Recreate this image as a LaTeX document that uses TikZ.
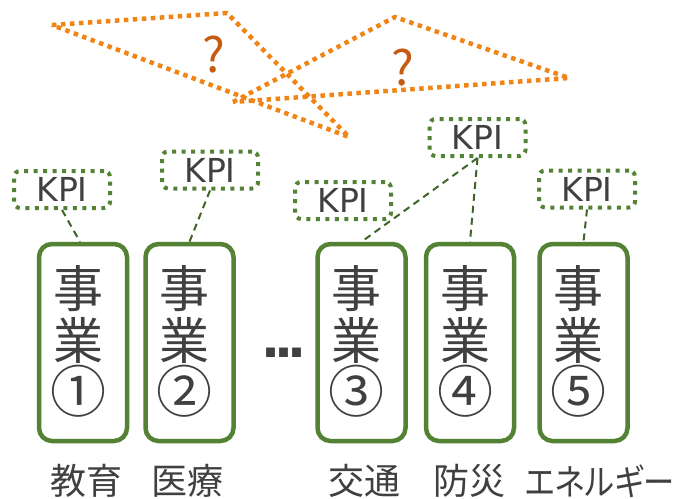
\documentclass[tikz,border=0pt]{standalone}
\usepackage{fontspec}
\newfontfamily\jpfont{Noto Sans CJK JP}
\newfontfamily\katafont[RawFeature=+palt, FakeStretch=0.87]{Noto Sans CJK JP}
\newfontfamily\dvfont{DejaVu Sans}
\newfontfamily\dvbfont{DejaVu Sans Bold}
\definecolor{grn}{RGB}{84,130,53}
\definecolor{dgrn}{RGB}{62,100,40}
\definecolor{org}{RGB}{240,132,20}
\definecolor{qcol}{RGB}{197,90,17}
\definecolor{txt}{RGB}{64,64,64}
\newcommand{\circnum}[1]{\raisebox{-1pt}{\scalebox{1.12}{#1}}}
\tikzset{
  bizbox/.style={draw=grn, line width=4.5pt, rounded corners=13pt, fill=white,
    minimum width=88pt, minimum height=197pt, inner sep=0pt},
  biztext/.style={font=\jpfont\fontsize{50}{52}\selectfont, text=txt, align=center, inner sep=0pt},
  kpibox/.style={draw=grn, line width=4pt, dash pattern=on 4pt off 5.5pt, rounded corners=6pt,
    fill=white, minimum width=96pt, minimum height=37pt, inner sep=0pt,
    font=\dvfont\fontsize{33}{33}\selectfont, text=txt},
  link/.style={draw=dgrn, line width=2pt, dash pattern=on 7pt off 5pt},
  sector/.style={font=\jpfont\fontsize{36}{36}\selectfont, text=txt, inner sep=0pt},
  wedge/.style={draw=org, line width=4.5pt, dash pattern=on 4.5pt off 4.5pt, line join=round},
  qmark/.style={font=\jpfont\fontsize{48}{48}\selectfont, text=qcol, inner sep=0pt}
}
\begin{document}
\begin{tikzpicture}[x=1pt,y=-1pt]
\useasboundingbox (0,0) rectangle (680,498);
% orange wedges
\coordinate (A) at (52,25);
\coordinate (B) at (227,13);
\coordinate (D) at (349,137);
\coordinate (C) at (233,102);
\coordinate (E) at (395,17);
\coordinate (F) at (569,78);
\draw[wedge] (A) -- (B) -- (D) -- cycle;
\draw[wedge] (C) -- (E) -- (F) -- cycle;
\node[qmark] (q1) at (214,55) {?};
\node[qmark] (q2) at (403,68) {?};
% KPI boxes
\node[kpibox] (k1) at (62,189.5) {KPI};
\node[kpibox] (k2) at (210,170) {KPI};
\node[kpibox] (k3) at (343,200.5) {KPI};
\node[kpibox] (k4) at (477.5,137.5) {KPI};
\node[kpibox] (k5) at (587,189) {KPI};
% business boxes
\node[bizbox] (b1) at (83,342.5) {};
\node[bizbox] (b2) at (189.5,342.5) {};
\node[bizbox] (b3) at (361.5,342.5) {};
\node[bizbox] (b4) at (470,342.5) {};
\node[bizbox] (b5) at (583.5,342.5) {};
% connectors
\draw[link] (k1.south) -- ([xshift=-3pt]b1.north);
\draw[link] (k2.south) -- (b2.north);
\draw[link] (k4.south) -- (b3.north);
\draw[link] (k4.south) -- (b4.north);
\draw[link] (k5.south) -- (b5.north);
% texts
\node[biztext] (t1) at ([xshift=-5pt,yshift=1pt]b1.center) {事\\業\\\circnum{①}};
\node[biztext] (t2) at ([xshift=-5pt,yshift=1pt]b2.center) {事\\業\\\circnum{②}};
\node[biztext] (t3) at ([xshift=-5pt,yshift=1pt]b3.center) {事\\業\\\circnum{③}};
\node[biztext] (t4) at ([xshift=-5pt,yshift=1pt]b4.center) {事\\業\\\circnum{④}};
\node[biztext] (t5) at ([xshift=-5pt,yshift=1pt]b5.center) {事\\業\\\circnum{⑤}};
\node[font=\dvbfont\fontsize{50}{50}\selectfont, text=txt, inner sep=0pt] (dots) at (284,352.5) {.\kern-6pt.\kern-6pt.};
% sector labels
\node[sector] (s1) at (86.5,481) {教育};
\node[sector] (s2) at (187.5,481) {医療};
\node[sector] (s3) at (364,481) {交通};
\node[sector] (s4) at (469,481) {防災};
\node[sector, font=\katafont\fontsize{36}{36}\selectfont] (s5) at (600,481) {エネルギー};
\end{tikzpicture}
\end{document}
